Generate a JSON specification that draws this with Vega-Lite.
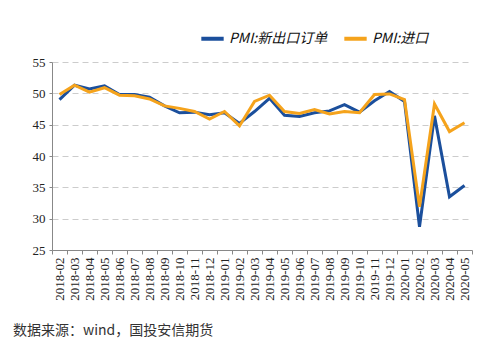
{
  "$schema": "https://vega.github.io/schema/vega-lite/v6.json",
  "width": 420,
  "height": 188,
  "autosize": {"type": "none"},
  "padding": {"left": 52, "top": 62, "right": 28, "bottom": 106},
  "background": "white",
  "title": {
    "text": "数据来源：wind，国投安信期货",
    "orient": "bottom",
    "anchor": "start",
    "frame": "group",
    "dx": -39,
    "offset": 24,
    "font": "Noto Sans CJK SC",
    "fontSize": 14,
    "fontWeight": "normal",
    "color": "#333333"
  },
  "datasets": {
    "pmi": [
      {"month": "2018-02", "series": "PMI:新出口订单", "value": 49.0},
      {"month": "2018-03", "series": "PMI:新出口订单", "value": 51.3},
      {"month": "2018-04", "series": "PMI:新出口订单", "value": 50.7},
      {"month": "2018-05", "series": "PMI:新出口订单", "value": 51.2},
      {"month": "2018-06", "series": "PMI:新出口订单", "value": 49.8},
      {"month": "2018-07", "series": "PMI:新出口订单", "value": 49.8},
      {"month": "2018-08", "series": "PMI:新出口订单", "value": 49.4},
      {"month": "2018-09", "series": "PMI:新出口订单", "value": 48.0},
      {"month": "2018-10", "series": "PMI:新出口订单", "value": 46.9},
      {"month": "2018-11", "series": "PMI:新出口订单", "value": 47.0},
      {"month": "2018-12", "series": "PMI:新出口订单", "value": 46.6},
      {"month": "2019-01", "series": "PMI:新出口订单", "value": 46.9},
      {"month": "2019-02", "series": "PMI:新出口订单", "value": 45.2},
      {"month": "2019-03", "series": "PMI:新出口订单", "value": 47.1},
      {"month": "2019-04", "series": "PMI:新出口订单", "value": 49.2},
      {"month": "2019-05", "series": "PMI:新出口订单", "value": 46.5},
      {"month": "2019-06", "series": "PMI:新出口订单", "value": 46.3},
      {"month": "2019-07", "series": "PMI:新出口订单", "value": 46.9},
      {"month": "2019-08", "series": "PMI:新出口订单", "value": 47.2},
      {"month": "2019-09", "series": "PMI:新出口订单", "value": 48.2},
      {"month": "2019-10", "series": "PMI:新出口订单", "value": 47.0},
      {"month": "2019-11", "series": "PMI:新出口订单", "value": 48.8},
      {"month": "2019-12", "series": "PMI:新出口订单", "value": 50.3},
      {"month": "2020-01", "series": "PMI:新出口订单", "value": 48.7},
      {"month": "2020-02", "series": "PMI:新出口订单", "value": 28.7},
      {"month": "2020-03", "series": "PMI:新出口订单", "value": 46.4},
      {"month": "2020-04", "series": "PMI:新出口订单", "value": 33.5},
      {"month": "2020-05", "series": "PMI:新出口订单", "value": 35.3},
      {"month": "2018-02", "series": "PMI:进口", "value": 49.8},
      {"month": "2018-03", "series": "PMI:进口", "value": 51.3},
      {"month": "2018-04", "series": "PMI:进口", "value": 50.2},
      {"month": "2018-05", "series": "PMI:进口", "value": 50.9},
      {"month": "2018-06", "series": "PMI:进口", "value": 49.7},
      {"month": "2018-07", "series": "PMI:进口", "value": 49.6},
      {"month": "2018-08", "series": "PMI:进口", "value": 49.1},
      {"month": "2018-09", "series": "PMI:进口", "value": 48.0},
      {"month": "2018-10", "series": "PMI:进口", "value": 47.6},
      {"month": "2018-11", "series": "PMI:进口", "value": 47.1},
      {"month": "2018-12", "series": "PMI:进口", "value": 45.9},
      {"month": "2019-01", "series": "PMI:进口", "value": 47.1},
      {"month": "2019-02", "series": "PMI:进口", "value": 44.8},
      {"month": "2019-03", "series": "PMI:进口", "value": 48.7},
      {"month": "2019-04", "series": "PMI:进口", "value": 49.7},
      {"month": "2019-05", "series": "PMI:进口", "value": 47.1},
      {"month": "2019-06", "series": "PMI:进口", "value": 46.8},
      {"month": "2019-07", "series": "PMI:进口", "value": 47.4},
      {"month": "2019-08", "series": "PMI:进口", "value": 46.7},
      {"month": "2019-09", "series": "PMI:进口", "value": 47.1},
      {"month": "2019-10", "series": "PMI:进口", "value": 46.9},
      {"month": "2019-11", "series": "PMI:进口", "value": 49.8},
      {"month": "2019-12", "series": "PMI:进口", "value": 49.9},
      {"month": "2020-01", "series": "PMI:进口", "value": 49.0},
      {"month": "2020-02", "series": "PMI:进口", "value": 31.9},
      {"month": "2020-03", "series": "PMI:进口", "value": 48.3},
      {"month": "2020-04", "series": "PMI:进口", "value": 43.9},
      {"month": "2020-05", "series": "PMI:进口", "value": 45.3}
    ]
  },
  "data": {"name": "pmi"},
  "mark": {"type": "line", "strokeWidth": 3, "strokeJoin": "miter"},
  "encoding": {
    "x": {
      "field": "month",
      "type": "ordinal",
      "bandPosition": 0.5,
      "scale": {"type": "band", "paddingInner": 0, "paddingOuter": 0},
      "axis": {
        "title": null,
        "labelAngle": -90,
        "labelAlign": "right",
        "labelBaseline": "middle",
        "labelFont": "Liberation Serif",
        "labelFontSize": 13,
        "labelColor": "#222222",
        "labelPadding": 3,
        "tickBand": "extent",
        "tickSize": 4,
        "tickColor": "#888888",
        "domainColor": "#888888",
        "grid": false
      }
    },
    "y": {
      "field": "value",
      "type": "quantitative",
      "scale": {"domain": [25, 55], "nice": false, "zero": false},
      "axis": {
        "title": null,
        "values": [25, 30, 35, 40, 45, 50, 55],
        "labelFont": "Liberation Serif",
        "labelFontSize": 13,
        "labelColor": "#222222",
        "labelPadding": 4,
        "tickSize": 3,
        "tickColor": "#888888",
        "domainColor": "#888888",
        "grid": true,
        "gridColor": "#cccccc",
        "gridDash": [6, 4],
        "gridWidth": 1
      }
    },
    "color": {
      "field": "series",
      "type": "nominal",
      "sort": ["PMI:新出口订单", "PMI:进口"],
      "scale": {"domain": ["PMI:新出口订单", "PMI:进口"], "range": ["#1b4f9c", "#f5a31c"]},
      "legend": {
        "title": null,
        "orient": "none",
        "direction": "horizontal",
        "legendX": 147,
        "legendY": -37,
        "symbolType": "stroke",
        "symbolStrokeWidth": 4,
        "symbolSize": 500,
        "labelFont": "Noto Sans CJK SC",
        "labelFontSize": 14,
        "labelFontStyle": "italic",
        "labelColor": "#111111",
        "columnPadding": 8,
        "labelOffset": 3
      }
    }
  },
  "config": {"view": {"stroke": null}}
}
